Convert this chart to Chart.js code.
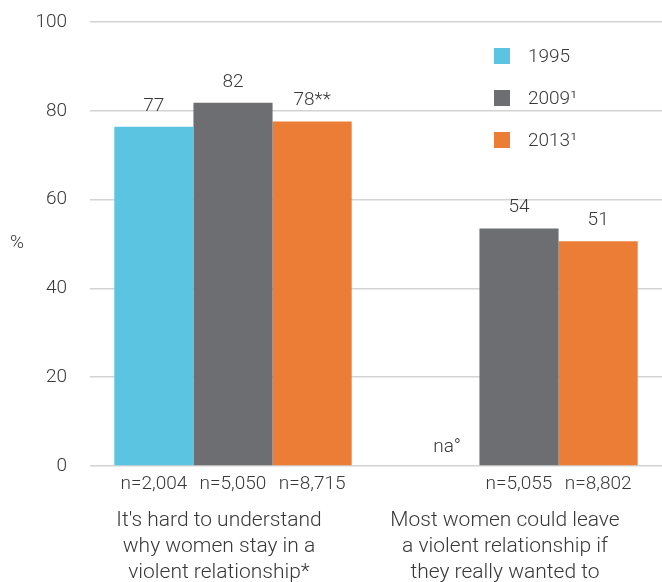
<!DOCTYPE html>
<html>
<head>
<meta charset="utf-8">
<script src="https://cdn.jsdelivr.net/npm/chart.js@4"></script>
<style>
  html, body { margin: 0; padding: 0; background: #fff; overflow: hidden; }
  #wrap { width: 662px; height: 582px; }
</style>
</head>
<body>
<div id="wrap"><canvas id="chart" width="662" height="582"></canvas></div>
<script>
  // ── Data ─────────────────────────────
  var categories = [
    ["It's hard to understand", "why women stay in a", "violent relationship*"],
    ["Most women could leave", "a violent relationship if", "they really wanted to"]
  ];
  var seriesNames = ["1995", "2009\u00b9", "2013\u00b9"];
  var values1995 = [76.4, null];
  var values2009 = [81.8, 53.5];
  var values2013 = [77.6, 50.6];
  var labels1995 = ["77", "na\u00b0"];
  var labels2009 = ["82", "54"];
  var labels2013 = ["78**", "51"];
  var n1995 = ["n=2,004", ""];
  var n2009 = ["n=5,050", "n=5,055"];
  var n2013 = ["n=8,715", "n=8,802"];
  var yTicks = [0, 20, 40, 60, 80, 100];

  var colors = ["#5bc4e1", "#6d6e71", "#ec7d36"];
  var textColor = "#383838";
  var font = "Roboto, 'Noto Sans', sans-serif";

  var valueLabels = [labels1995, labels2009, labels2013];
  var nLabels = [n1995, n2009, n2013];

  // scales keep their fixed size, no extra padding from tick labels
  function noPad(scale) {
    scale.paddingTop = 0;
    scale.paddingBottom = 0;
    scale.paddingLeft = 0;
    scale.paddingRight = 0;
  }

  // ── Annotations: values, n=, na, legend, % ──
  var annotate = {
    id: "annotate",
    afterDatasetsDraw: function (chart) {
      var ctx = chart.ctx;
      var area = chart.chartArea;
      var x = chart.scales.x, y = chart.scales.y;
      ctx.save();
      ctx.fillStyle = textColor;
      ctx.font = "300 19px " + font;
      ctx.textAlign = "center";
      ctx.textBaseline = "middle";
      chart.data.datasets.forEach(function (ds, di) {
        var meta = chart.getDatasetMeta(di);
        meta.data.forEach(function (bar, i) {
          var v = ds.data[i];
          if (v === null) {
            // missing value marker sits on the baseline, left of the slot
            ctx.textAlign = "right";
            ctx.fillText(valueLabels[di][i], x.getPixelForValue(i) - 58, y.getPixelForValue(0) - 19);
            ctx.textAlign = "center";
            return;
          }
          ctx.fillText(valueLabels[di][i], bar.x, bar.y - 21);
          ctx.fillText(nLabels[di][i], bar.x, area.bottom + 18);
        });
      });

      // legend
      var lx = area.right - 168, ly = area.top + 34;
      ctx.textAlign = "left";
      seriesNames.forEach(function (name, i) {
        ctx.fillStyle = colors[i];
        ctx.fillRect(lx, ly + i * 42 - 8, 16, 16);
        ctx.fillStyle = textColor;
        ctx.fillText(name, lx + 34, ly + i * 42 + 1);
      });

      // % axis title
      ctx.textAlign = "left";
      ctx.fillText("%", 10, (area.top + area.bottom) / 2 - 1);
      ctx.restore();
    }
  };

  new Chart(document.getElementById("chart"), {
    type: "bar",
    data: {
      labels: categories,
      datasets: [values1995, values2009, values2013].map(function (vals, i) {
        return {
          label: seriesNames[i],
          data: vals,
          backgroundColor: colors[i],
          categoryPercentage: 0.83,
          barPercentage: 1
        };
      })
    },
    options: {
      responsive: false,
      animation: false,
      events: [],
      layout: { padding: { top: 22, right: 0, left: 0, bottom: 0 } },
      plugins: {
        legend: { display: false },
        tooltip: { enabled: false }
      },
      scales: {
        x: {
          grid: { display: false, drawTicks: false },
          border: { display: false },
          ticks: {
            color: textColor,
            font: { family: font, size: 21, weight: "300", lineHeight: 1.24 },
            padding: 42,
            labelOffset: -14,
            maxRotation: 0,
            autoSkip: false
          },
          afterFit: function (scale) { scale.height = 116; noPad(scale); }
        },
        y: {
          min: 0,
          max: 100,
          afterBuildTicks: function (scale) {
            scale.ticks = yTicks.map(function (v) { return { value: v }; });
          },
          grid: { color: "#d3d3d3", lineWidth: 1.5, drawTicks: false },
          border: { display: false },
          ticks: {
            color: textColor,
            font: { family: font, size: 19, weight: "300" },
            padding: 23
          },
          afterFit: function (scale) { scale.width = 90; noPad(scale); }
        }
      }
    },
    plugins: [annotate]
  });
</script>
</body>
</html>
